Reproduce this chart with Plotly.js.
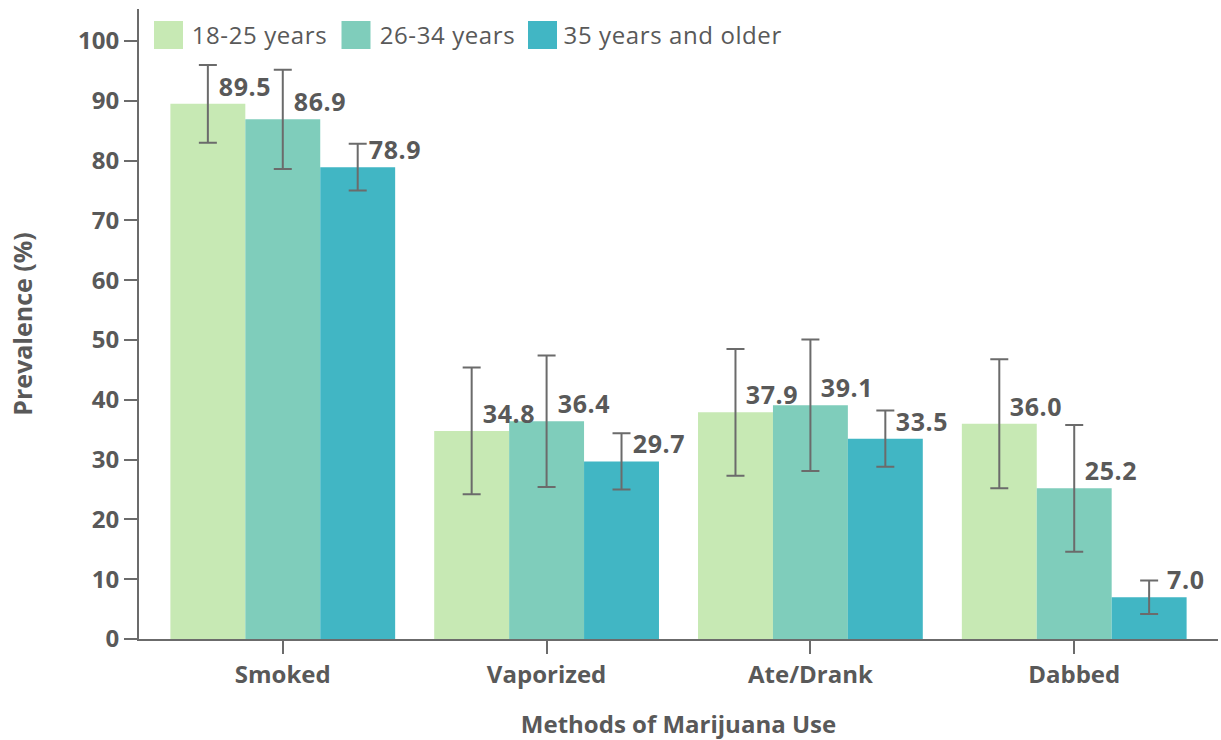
<!DOCTYPE html>
<html>
<head>
<meta charset="utf-8">
<script src="https://cdn.plot.ly/plotly-3.0.1.min.js"></script>
<style>
html,body{margin:0;padding:0;background:#fff;}
#chart{width:1221px;height:740px;}
.vlabel text, g.annotation text{letter-spacing:0.6px;}
</style>
</head>
<body>
<div id="chart"></div>
<script>
const categories = ["Smoked", "Vaporized", "Ate/Drank", "Dabbed"];
const seriesNames = ["18-25 years", "26-34 years", "35 years and older"];
const age18to25 = [89.5, 34.8, 37.9, 36.0];
const age26to34 = [86.9, 36.4, 39.1, 25.2];
const age35plus = [78.9, 29.7, 33.5, 7.0];
const err18to25 = [6.5, 10.6, 10.6, 10.8];
const err26to34 = [8.3, 11.0, 11.0, 10.6];
const err35plus = [3.9, 4.7, 4.7, 2.8];
const yTicks = [0, 10, 20, 30, 40, 50, 60, 70, 80, 90, 100];

const colors = ["#c7e9b4", "#7fcdbb", "#41b6c4"];
const textColor = "#595959";
const axisColor = "#6b6b6b";
const FONT = "Open Sans, Noto Sans, sans-serif";
const bargap = 0.148;

const values = [age18to25, age26to34, age35plus];
const errs = [err18to25, err26to34, err35plus];

const traces = values.map((v, s) => ({
  type: "bar",
  name: seriesNames[s],
  x: categories,
  y: v,
  marker: {color: colors[s], line: {width: 0}},
  error_y: {type: "data", array: errs[s], visible: true, color: "#6b6b6b", thickness: 2, width: 9},
  showlegend: false,
  hoverinfo: "skip"
}));

const barW = (1 - bargap) / 3;
const annotations = [];
values.forEach((v, s) => {
  v.forEach((val, i) => {
    annotations.push({
      x: i + (s - 1) * barW, xref: "x", y: val, yref: "y",
      text: val.toFixed(1), showarrow: false,
      xanchor: "center", yanchor: "bottom", xshift: 37, yshift: -1,
      font: {family: FONT, size: 25, color: textColor, weight: 700}
    });
  });
});

// legend (manual, large swatches)
const legendX = [154, 341.5, 528];
const shapes = [];
seriesNames.forEach((n, s) => {
  shapes.push({type: "rect", xref: "paper", yref: "paper", layer: "above",
    x0: 0, x1: 0, y0: 0, y1: 0, fillcolor: colors[s], line: {width: 0}, _px: legendX[s]});
  annotations.push({xref: "paper", yref: "paper", x: 0, y: 0, _px: legendX[s] + 39, text: n,
    showarrow: false, xanchor: "left", yanchor: "middle",
    font: {family: FONT, size: 24, color: textColor}});
});

const L = 139, R = 3, T = 9, B = 101, W = 1221, H = 740;
const pw = W - L - R, ph = H - T - B;
const px2x = p => (p - L) / pw;
const py2y = p => (H - B - p) / ph;
shapes.forEach(sh => { sh.x0 = px2x(sh._px); sh.x1 = px2x(sh._px + 29); sh.y0 = py2y(49); sh.y1 = py2y(21); delete sh._px; });
annotations.forEach(a => { if (a._px !== undefined) { a.x = px2x(a._px); a.y = py2y(35); delete a._px; } });

const layout = {
  width: W, height: H,
  margin: {l: L, r: R, t: T, b: B, pad: 0},
  paper_bgcolor: "#fff", plot_bgcolor: "#fff",
  barmode: "group", bargap: bargap, bargroupgap: 0,
  showlegend: false,
  font: {family: FONT, color: textColor},
  xaxis: {
    type: "category", range: [-0.545, 3.545],
    showline: true, linecolor: axisColor, linewidth: 2,
    ticks: "outside", ticklen: 13, tickwidth: 2, tickcolor: axisColor,
    showgrid: false, zeroline: false,
    tickfont: {family: FONT, size: 24, color: textColor, weight: 700},
    title: {text: "Methods of Marijuana Use", font: {family: FONT, size: 24, color: textColor, weight: 700}, standoff: 27}
  },
  yaxis: {
    range: [0, 105.35], tickvals: yTicks, ticktext: yTicks.map(String),
    showline: true, linecolor: axisColor, linewidth: 2,
    ticks: "outside", ticklen: 13, tickwidth: 2, tickcolor: axisColor,
    showgrid: false, zeroline: false,
    tickfont: {family: FONT, size: 24, color: textColor, weight: 700},
    title: {text: "Prevalence (%)", font: {family: FONT, size: 25, color: textColor, weight: 700}, standoff: 38}
  },
  shapes: shapes,
  annotations: annotations
};

Plotly.newPlot("chart", traces, layout, {displayModeBar: false, staticPlot: true});
</script>
</body>
</html>
